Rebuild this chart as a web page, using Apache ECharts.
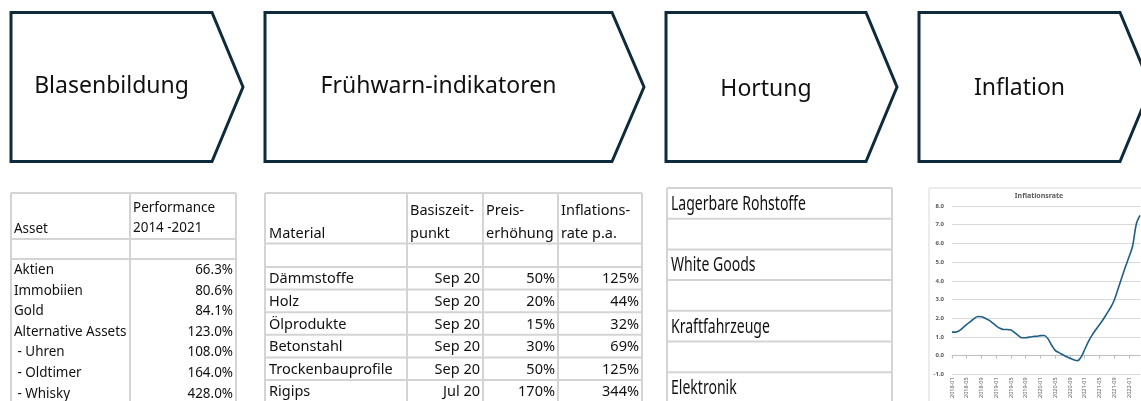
<!DOCTYPE html>
<html><head><meta charset="utf-8">
<script src="https://cdn.jsdelivr.net/npm/echarts@6/dist/echarts.min.js"></script>
<style>html,body{margin:0;padding:0;background:#fff}#c{width:1141px;height:401px}</style>
</head><body><div id="c"></div>
<script>
// ---- data ----
const stages = ['Blasenbildung', 'Frühwarn-indikatoren', 'Hortung', 'Inflation'];
const assetHeader = [['Asset'], ['Performance', '2014 -2021']];
const assets = ['Aktien', 'Immobiien', 'Gold', 'Alternative Assets', ' - Uhren', ' - Oldtimer', ' - Whisky'];
const assetPerf = ['66.3%', '80.6%', '84.1%', '123.0%', '108.0%', '164.0%', '428.0%'];
const materialHeader = [['Material'], ['Basiszeit-', 'punkt'], ['Preis-', 'erhöhung'], ['Inflations-', 'rate p.a.']];
const materials = ['Dämmstoffe', 'Holz', 'Ölprodukte', 'Betonstahl', 'Trockenbauprofile', 'Rigips'];
const baseDates = ['Sep 20', 'Sep 20', 'Sep 20', 'Sep 20', 'Sep 20', 'Jul 20'];
const priceIncrease = ['50%', '20%', '15%', '30%', '50%', '170%'];
const inflationPa = ['125%', '44%', '32%', '69%', '125%', '344%'];
const hoarding = ['Lagerbare Rohstoffe', 'White Goods', 'Kraftfahrzeuge', 'Elektronik'];
const chartTitle = 'Inflationsrate';
const months = [
  '2018-01','2018-02','2018-03','2018-04','2018-05','2018-06','2018-07','2018-08','2018-09','2018-10','2018-11','2018-12',
  '2019-01','2019-02','2019-03','2019-04','2019-05','2019-06','2019-07','2019-08','2019-09','2019-10','2019-11','2019-12',
  '2020-01','2020-02','2020-03','2020-04','2020-05','2020-06','2020-07','2020-08','2020-09','2020-10','2020-11','2020-12',
  '2021-01','2021-02','2021-03','2021-04','2021-05','2021-06','2021-07','2021-08','2021-09','2021-10','2021-11','2021-12',
  '2022-01','2022-02','2022-03','2022-04'
];
const inflation = [
  1.26, 1.26, 1.34, 1.50, 1.67, 1.82, 1.98, 2.09, 2.08, 2.00, 1.90, 1.75,
  1.59, 1.46, 1.40, 1.40, 1.37, 1.23, 1.07, 0.96, 0.96, 0.99, 1.02, 1.04,
  1.07, 1.08, 0.91, 0.57, 0.28, 0.16, 0.06, -0.05, -0.14, -0.22, -0.27, -0.08,
  0.33, 0.75, 1.10, 1.38, 1.65, 1.93, 2.25, 2.56, 2.96, 3.54, 4.14, 4.72,
  5.27, 5.86, 7.04, 7.50
];
const yMin = -1, yMax = 8, yStep = 1;

// ---- layout ----
const FONT = 'Noto Sans';
const LINE = '#d4d4d4';
const NAVY = '#0e2b3c';
const g = [];
function line(x1, y1, x2, y2) {
  g.push({ type: 'line', silent: true, shape: { x1, y1, x2, y2 }, style: { stroke: LINE, lineWidth: 2 } });
}
function text(x, y, s, size, align, sx) {
  g.push({ type: 'text', silent: true, x, y, scaleX: sx || 1,
    style: { text: s, x: 0, y: 0, fontSize: size, fontFamily: FONT, fill: '#111',
      textAlign: align || 'left', textVerticalAlign: 'middle' } });
}

// arrows
const arrowGeom = [[11, 212, 243], [265, 612, 644], [666, 866, 897], [919, 1120, 1151]];
const stageY = [86, 86, 89, 88];
const aTop = 12.5, aBot = 161.5, aMid = 87;
arrowGeom.forEach((a, i) => {
  g.push({ type: 'polygon', silent: true,
    shape: { points: [[a[0], aTop], [a[1], aTop], [a[2], aMid], [a[1], aBot], [a[0], aBot]] },
    style: { fill: '#fff', stroke: NAVY, lineWidth: 3, lineJoin: 'miter' } });
  text((a[0] + a[1]) / 2, stageY[i], stages[i], 23, 'center');
});

// table 1
(function () {
  const L = 11, M = 130, R = 236, T = 193, H1 = 239, H2 = 259, B = 420, S = 0.96;
  [L, M, R].forEach(x => line(x, T, x, B));
  [T, H1, H2].forEach(y => line(L, y, R, y));
  text(L + 3, 229, assetHeader[0][0], 14, 'left', S);
  text(M + 3, 208, assetHeader[1][0], 14, 'left', S);
  text(M + 3, 228, assetHeader[1][1], 14, 'left', S);
  const r0 = 270, rh = 20.6;
  assets.forEach((s, i) => {
    text(L + 3, r0 + i * rh, s, 14, 'left', S);
    text(R - 3, r0 + i * rh, assetPerf[i], 14, 'right', S);
  });
})();

// table 2
(function () {
  const xs = [265, 407, 483, 558, 642], T = 193, H1 = 243.5, H2 = 267, rh = 22.6, B = 420;
  xs.forEach(x => line(x, T, x, B));
  const ys = [T, H1, H2];
  for (let i = 1; i <= materials.length; i++) ys.push(H2 + i * rh);
  ys.forEach(y => line(xs[0], y, xs[4], y));
  materialHeader.forEach((h, c) => {
    if (h.length === 1) text(xs[c] + 4, 234, h[0], 14.5);
    else { text(xs[c] + 3, 211, h[0], 14.5); text(xs[c] + 3, 234, h[1], 14.5); }
  });
  const cols = [baseDates, priceIncrease, inflationPa];
  materials.forEach((m, i) => {
    const y = H2 + i * rh + rh / 2 + 1;
    text(xs[0] + 4, y, m, 14.5);
    cols.forEach((col, c) => text(xs[c + 2] - 3, y, col[i], 14.5, 'right'));
  });
})();

// table 3
(function () {
  const L = 667, R = 892, T = 188, rh = 30.7, B = 420;
  [L, R].forEach(x => line(x, T, x, B));
  for (let i = 0; i <= 7; i++) line(L, T + i * rh, R, T + i * rh);
  hoarding.forEach((s, i) => text(L + 4, T + (2 * i) * rh + rh / 2 + 1, s, 19.5, 'left', 0.72));
})();

// chart box + title
g.push({ type: 'rect', silent: true, shape: { x: 929, y: 188, width: 400, height: 400 },
  style: { fill: 'transparent', stroke: '#d9d9d9', lineWidth: 1 } });
g.push({ type: 'text', silent: true, x: 1039, y: 196,
  style: { text: chartTitle, fontSize: 7, fontWeight: 'bold', fontFamily: FONT, fill: '#595959',
    textAlign: 'center', textVerticalAlign: 'middle' } });

const chart = echarts.init(document.getElementById('c'));
chart.setOption({
  animation: false,
  backgroundColor: '#fff',
  graphic: { elements: g },
  grid: { left: 952, right: 1, top: 206, bottom: 4, containLabel: false },
  xAxis: {
    type: 'category', data: months, boundaryGap: false,
    axisLine: { onZero: true, lineStyle: { color: '#bfbfbf', width: 1 } },
    axisTick: { show: true, interval: 3, length: 3, lineStyle: { color: '#bfbfbf' } },
    axisLabel: { interval: 3, rotate: 90, fontSize: 5.5, color: '#595959', margin: 3, fontFamily: FONT }
  },
  yAxis: {
    type: 'value', min: yMin, max: yMax, interval: yStep,
    axisLabel: { formatter: v => v.toFixed(1), fontSize: 6, fontWeight: 'bold', color: '#595959', margin: 8, fontFamily: FONT },
    splitLine: { lineStyle: { color: '#d9d9d9', width: 1 } },
    axisLine: { show: false }, axisTick: { show: false }
  },
  series: [{ type: 'line', data: inflation, smooth: 0.35, symbol: 'none', lineStyle: { color: '#1f5f86', width: 1.6 } }]
});
</script></body></html>
